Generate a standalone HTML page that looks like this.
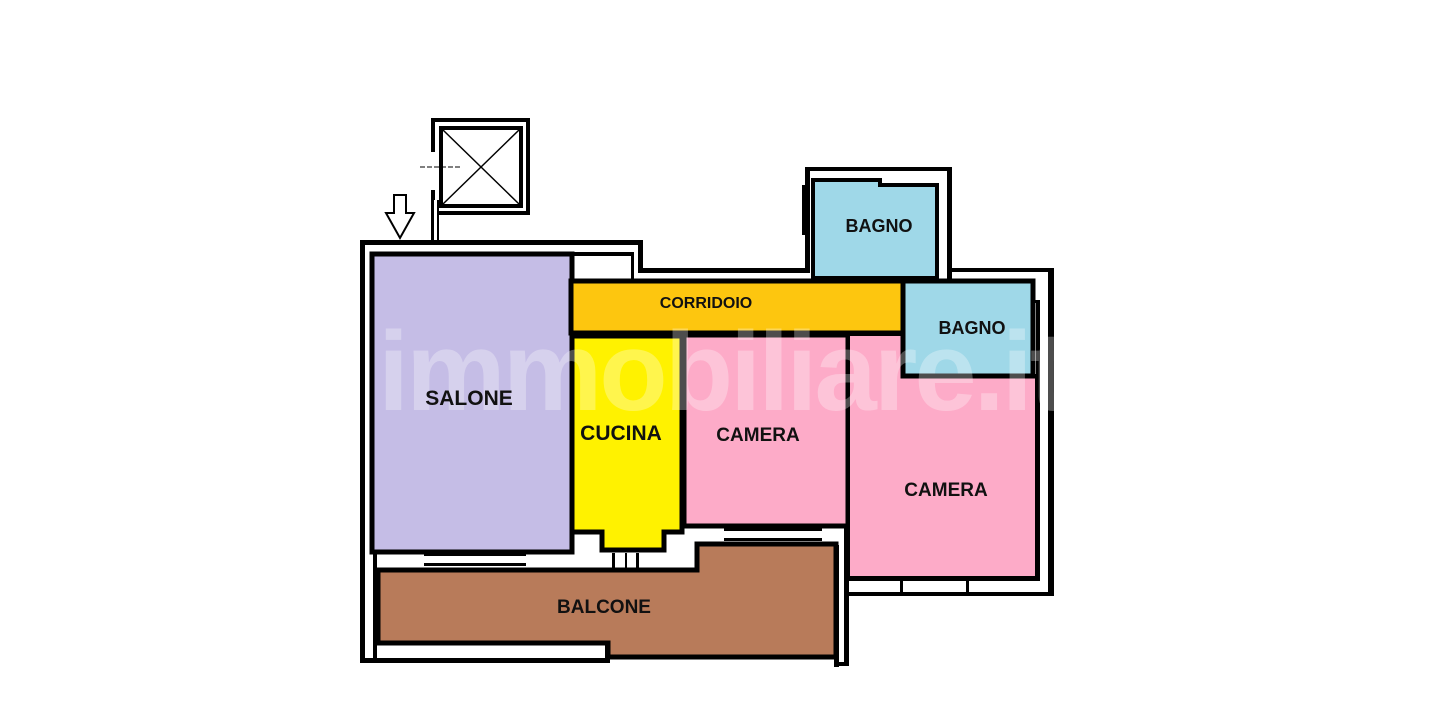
<!DOCTYPE html>
<html><head><meta charset="utf-8"><style>
html,body{margin:0;padding:0;background:#fff;width:1440px;height:707px;overflow:hidden}
svg{display:block}
text{font-family:"Liberation Sans",sans-serif;font-weight:bold;fill:#111}
</style></head><body>
<svg width="1440" height="707" viewBox="0 0 1440 707" xmlns="http://www.w3.org/2000/svg">
<g fill="#000">
<rect x="360" y="240" width="5" height="423"/>
<rect x="373" y="252" width="4" height="410"/>
<rect x="360" y="240" width="283" height="5"/>
<rect x="373" y="252" width="260" height="4"/>
<rect x="638" y="240" width="5" height="33"/>
<rect x="638" y="268" width="172" height="5"/>
<rect x="631" y="252" width="3" height="30"/>
<rect x="805" y="167" width="5" height="106"/>
<rect x="805" y="167" width="147" height="4"/>
<rect x="947" y="167" width="5" height="124"/>
<rect x="935" y="185" width="4" height="106"/>
<rect x="935" y="287" width="17" height="4"/>
<rect x="947" y="268" width="107" height="4"/>
<rect x="1048" y="268" width="6" height="328"/>
<rect x="1036" y="300" width="4" height="280"/>
<rect x="1020" y="300" width="20" height="3"/>
<rect x="848" y="592" width="206" height="4"/>
<rect x="848" y="577" width="192" height="4"/>
<rect x="844" y="330" width="5" height="266"/>
<rect x="834" y="545" width="5" height="122"/>
<rect x="834" y="662" width="15" height="4"/>
<rect x="844" y="596" width="5" height="70"/>
<rect x="360" y="658" width="250" height="5"/>
<rect x="605" y="643" width="5" height="20"/>
<rect x="378" y="640" width="230" height="4"/>
<rect x="431" y="118" width="99" height="4"/>
<rect x="526" y="118" width="4" height="97"/>
<rect x="438" y="211" width="92" height="4"/>
<rect x="431" y="118" width="4" height="34"/>
<rect x="431" y="190" width="4" height="10"/>
<rect x="431" y="200" width="3" height="42"/>
<rect x="437" y="200" width="2" height="42"/>
</g>
<rect x="372" y="254" width="200" height="298" fill="#c5bde6" stroke="#000" stroke-width="5"/>
<rect x="571" y="281" width="335" height="52" fill="#fdc60f" stroke="#000" stroke-width="5"/>
<path d="M572 336 H682 V532 H664 V550 H602 V532 H572 Z" fill="#fff200" stroke="#000" stroke-width="5"/>
<rect x="684" y="335" width="164" height="191" fill="#fdabc8" stroke="#000" stroke-width="5"/>
<path d="M848 334 H904 V376 H1037 V578 H848 Z" fill="#fdabc8" stroke="#000" stroke-width="4"/>
<path d="M813 180 H880 V185 H937 V278 H813 Z" fill="#9fd8e8" stroke="#000" stroke-width="4"/>
<rect x="903" y="281" width="130" height="95" fill="#9fd8e8" stroke="#000" stroke-width="5"/>
<path d="M378 570 H697 V544 H836 V657 H608 V643 H378 Z" fill="#b87b5a" stroke="#000" stroke-width="5"/>
<g fill="#000">
<rect x="424" y="553" width="102" height="3"/><rect x="424" y="563" width="102" height="3"/>
<rect x="612" y="553" width="3" height="17"/><rect x="625" y="553" width="2" height="17"/><rect x="636" y="553" width="3" height="17"/>
<rect x="724" y="528" width="98" height="3"/><rect x="724" y="538" width="98" height="3"/>
<rect x="900" y="581" width="3" height="13"/><rect x="966" y="581" width="3" height="13"/>
<rect x="802" y="185" width="3" height="50"/>
</g>
<rect x="441" y="128" width="80" height="78" fill="none" stroke="#000" stroke-width="4"/>
<line x1="443" y1="130" x2="519" y2="204" stroke="#000" stroke-width="1.5"/>
<line x1="519" y1="130" x2="443" y2="204" stroke="#000" stroke-width="1.5"/>
<line x1="420" y1="167" x2="460" y2="167" stroke="#000" stroke-width="1" stroke-dasharray="5,2"/>
<path d="M394 195 H406 V213 H414 L400 238 L386 213 H394 Z" fill="#fff" stroke="#000" stroke-width="2"/>
<text x="378" y="410" font-size="112" style="fill:#fff;opacity:0.3;letter-spacing:-3px">immobiliare.it</text>
<text x="469" y="405" font-size="21" text-anchor="middle">SALONE</text>
<text x="706" y="308" font-size="16" text-anchor="middle">CORRIDOIO</text>
<text x="621" y="440" font-size="21" text-anchor="middle">CUCINA</text>
<text x="758" y="441" font-size="19" text-anchor="middle">CAMERA</text>
<text x="946" y="496" font-size="19" text-anchor="middle">CAMERA</text>
<text x="879" y="232" font-size="18" text-anchor="middle">BAGNO</text>
<text x="972" y="334" font-size="18" text-anchor="middle">BAGNO</text>
<text x="604" y="613" font-size="19" text-anchor="middle">BALCONE</text>
</svg>
</body></html>
